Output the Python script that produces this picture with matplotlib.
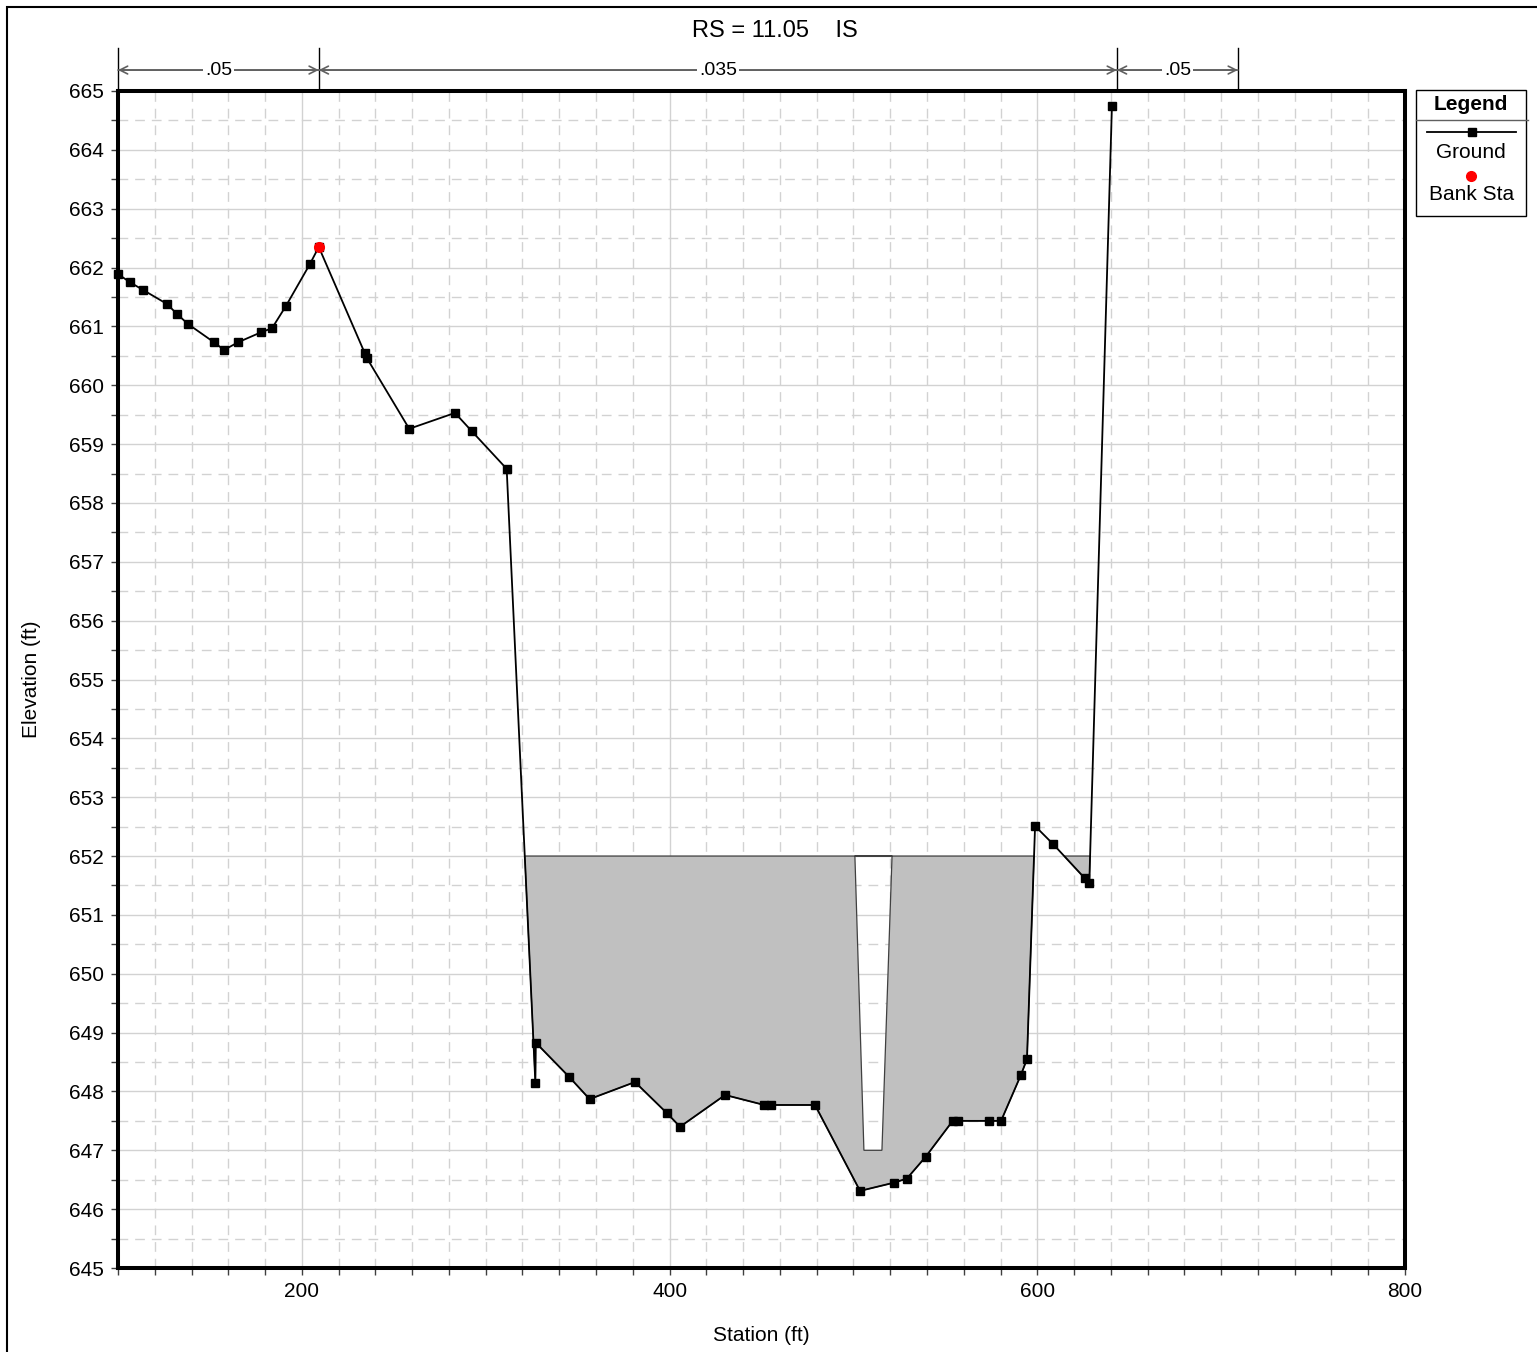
import numpy as np
import matplotlib
matplotlib.use('Agg')
import matplotlib.pyplot as plt
from matplotlib.path import Path
from matplotlib.patches import PathPatch, Rectangle
from matplotlib.ticker import MultipleLocator
from matplotlib.lines import Line2D

plt.rcParams['font.family'] = ['Liberation Sans', 'DejaVu Sans']

# ---------------- data ----------------
station = [100.0, 106.5, 113.6, 126.7, 132.1, 138.1, 152.2, 157.7, 165.3, 177.8,
           183.8, 191.4, 204.4, 209.2, 234.3, 235.2, 258.4, 283.3, 292.4, 311.4,
           327.0, 327.2, 345.3, 356.5, 381.2, 398.6, 405.7, 430.2, 451.5, 454.9,
           479.1, 503.6, 522.1, 529.1, 539.3, 554.0, 557.0, 573.9, 580.3, 591.1,
           594.4, 598.8, 608.7, 625.9, 628.3, 640.6]
elevation = [661.89, 661.75, 661.62, 661.38, 661.21, 661.04, 660.73, 660.60, 660.73, 660.90,
             660.97, 661.35, 662.06, 662.35, 660.54, 660.47, 659.26, 659.53, 659.22, 658.58,
             648.15, 648.83, 648.25, 647.87, 648.16, 647.63, 647.40, 647.94, 647.77, 647.77,
             647.77, 646.31, 646.45, 646.52, 646.89, 647.50, 647.50, 647.50, 647.50, 648.28,
             648.55, 652.51, 652.20, 651.62, 651.55, 664.75]
bank_station = [209.2]
bank_elevation = [662.35]
structure_top = 652.0
gate_station = [500.8, 505.7, 515.5, 521.0]
gate_elevation = [652.0, 647.0, 647.0, 652.0]
n_bounds = [100.0, 209.2, 643.3, 709.1]
n_values = ['.05', '.035', '.05']
title = 'RS = 11.05    IS'

# ---------------- figure ----------------
W, H = 1537, 1352
fig = plt.figure(figsize=(W / 100, H / 100), dpi=100)
fx = lambda px: px / W
fy = lambda py: 1 - py / H

ax = fig.add_axes([fx(118), fy(1268), (1405 - 118) / W, (1268 - 91) / H])
ax.set_xlim(100, 800)
ax.set_ylim(645, 665)

ax.xaxis.set_major_locator(MultipleLocator(200))
ax.xaxis.set_minor_locator(MultipleLocator(20))
ax.yaxis.set_major_locator(MultipleLocator(1))
ax.yaxis.set_minor_locator(MultipleLocator(0.5))
ax.grid(which='major', color='#d2d2d2', lw=1.0, ls='-', zorder=0)
ax.grid(which='minor', color='#d2d2d2', lw=1.0, ls=(0, (7, 5)), zorder=0)
ax.set_axisbelow(True)
ax.tick_params(which='both', direction='out', length=5, width=1, color='#404040',
               labelsize=15, pad=5)
for s in ax.spines.values():
    s.set_linewidth(2.9)
    s.set_color('black')

# structure fill (with gate opening as hole)
st = np.array(station)
el = np.array(elevation)
pc = ax.fill_between(st, el, structure_top, where=el < structure_top, interpolate=True)
paths = [p for p in pc.get_paths()]
pc.remove()

def signed_area(v):
    x, y = v[:, 0], v[:, 1]
    return 0.5 * np.sum(x * np.roll(y, -1) - np.roll(x, -1) * y)

sub = []
for p in paths:
    v = p.vertices
    sub.append(Path(np.vstack([v, v[:1]]), closed=True))
main_idx = int(np.argmax([abs(signed_area(p.vertices)) for p in paths]))
main_sign = np.sign(signed_area(paths[main_idx].vertices))
gv = np.column_stack([gate_station, gate_elevation])
if np.sign(signed_area(gv)) == main_sign:
    gv = gv[::-1]
sub.append(Path(np.vstack([gv, gv[:1]]), closed=True))
compound = Path.make_compound_path(*sub)
ax.add_patch(PathPatch(compound, facecolor='#c0c0c0', edgecolor='#404040', lw=0.9, zorder=2))

# ground
ax.plot(station, elevation, color='black', lw=1.3, marker='s', ms=6, zorder=4,
        clip_on=False)
ax.plot(bank_station, bank_elevation, ls='none', marker='o', ms=7, color='#ff0000',
        zorder=5, clip_on=False)

ax.set_xlabel('Station (ft)', fontsize=15, labelpad=18)
ax.set_ylabel('Elevation (ft)', fontsize=15, labelpad=20)

# Manning's n regions
trans = ax.get_xaxis_transform()
for b in n_bounds:
    ax.plot([b, b], [1.0, 1.0365], transform=trans, color='black', lw=1, clip_on=False)
for i, n in enumerate(n_values):
    a, b = n_bounds[i], n_bounds[i + 1]
    for p, q in ((a, b), (b, a)):
        ax.annotate('', xy=(p, 1.0178), xytext=(q, 1.0178), xycoords=trans, textcoords=trans,
                    arrowprops=dict(arrowstyle='->', color='#606060', lw=1.2, shrinkA=0,
                                    shrinkB=0, mutation_scale=14), annotation_clip=False)
    ax.text((a + b) / 2, 1.0178, n, transform=trans, ha='center', va='center', fontsize=14,
            bbox=dict(facecolor='white', edgecolor='none', pad=1.5), zorder=6)

fig.text(fx(775), fy(31), title, ha='center', va='center', fontsize=17)

# legend box
fig.add_artist(Rectangle((fx(1416), fy(216)), fx(1526) - fx(1416), fy(90) - fy(216),
                         transform=fig.transFigure, facecolor='white', edgecolor='black', lw=1))
fig.add_artist(Line2D([fx(1416), fx(1528)], [fy(120), fy(120)], color='#606060', lw=1))
fig.text(fx(1471), fy(104), 'Legend', ha='center', va='center', fontsize=15, fontweight='bold')
fig.add_artist(Line2D([fx(1427), fx(1516)], [fy(132), fy(132)], color='black', lw=1.3))
fig.add_artist(Line2D([fx(1472)], [fy(132)], color='black', marker='s', ms=5.5, ls='none'))
fig.text(fx(1471), fy(153), 'Ground', ha='center', va='center', fontsize=15)
fig.add_artist(Line2D([fx(1471)], [fy(176)], color='#ff0000', marker='o', ms=7, ls='none'))
fig.text(fx(1472), fy(195), 'Bank Sta', ha='center', va='center', fontsize=15)

# outer border
fig.add_artist(Rectangle((fx(7), fy(1400)), 2, fy(7) - fy(1400), transform=fig.transFigure,
                         facecolor='none', edgecolor='black', lw=1.5))

fig.savefig('out.png', dpi=100)
